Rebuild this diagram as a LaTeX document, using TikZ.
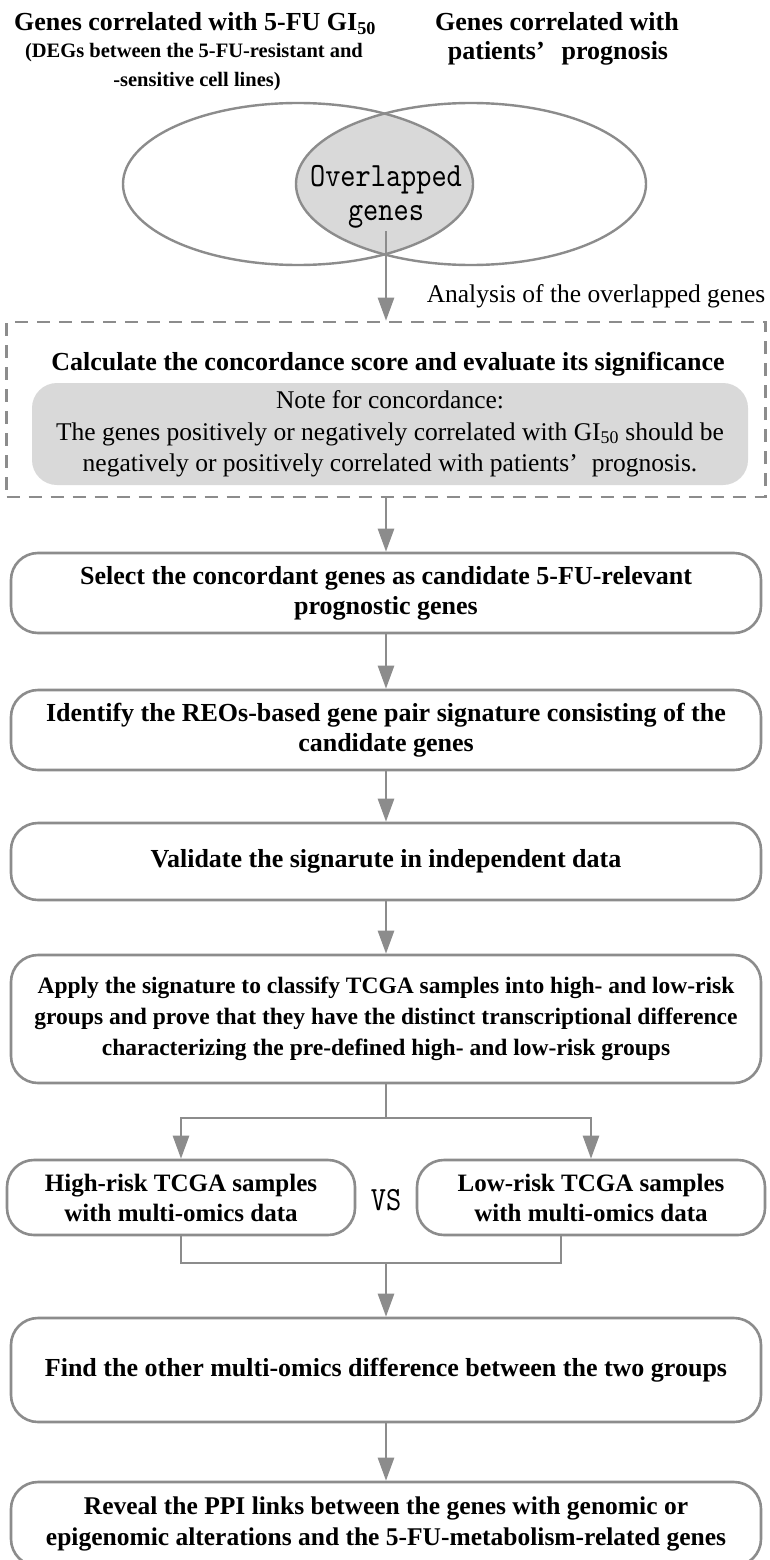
\documentclass[tikz,border=0pt]{standalone}
\usepackage{fontspec}
\setmainfont{Liberation Serif}
\newfontfamily\monof{lmmono10-regular.otf}[FakeStretch=0.85]
\usetikzlibrary{arrows.meta}
\definecolor{lgray}{HTML}{8C8C8C}
\definecolor{fgray}{HTML}{D9D9D9}
\begin{document}
\begin{tikzpicture}[x=1pt,y=-1pt,
  box/.style={draw=lgray, line width=2.6pt, rounded corners=27pt, fill=white, align=center, inner sep=0pt, font=\bfseries\fontsize{26}{30}\selectfont},
  arr/.style={draw=lgray, line width=2.6pt, -{Triangle[length=23pt,width=16pt]}},
  conn/.style={draw=lgray, line width=2.6pt},
  ttl/.style={anchor=base, inner sep=0pt, font=\bfseries\fontsize{26}{30}\selectfont},
  subttl/.style={anchor=base, inner sep=0pt, font=\bfseries\fontsize{20.5}{24}\selectfont},
  txt/.style={anchor=base, inner sep=0pt, font=\fontsize{25.5}{30}\selectfont},
  ell/.style={draw=lgray, line width=2.4pt},
  mono/.style={font=\monof\fontsize{34}{34}\selectfont, align=center, inner sep=3pt}]
\useasboundingbox (0,0) rectangle (769,1560);
\fill[white] (0,0) rectangle (769,1560);
% titles
\node[ttl] (tl1) at (195,31) {Genes correlated with 5-FU GI\textsubscript{50}};
\node[subttl] (tl2) at (194,58) {(DEGs between the 5-FU-resistant and};
\node[subttl] (tl3) at (197,87) {-sensitive cell lines)};
\node[ttl] (tr1) at (557,31) {Genes correlated with};
\node[ttl] (tr2) at (558,60) {patients’\hspace{17pt}prognosis};
% venn
\begin{scope}
\clip (298,184) ellipse [x radius=175, y radius=81];
\fill[fgray] (471,184) ellipse [x radius=175, y radius=81];
\end{scope}
\draw[ell] (298,184) ellipse [x radius=175, y radius=81];
\draw[ell] (471,184) ellipse [x radius=175, y radius=81];
\node[mono] (ov) at (386,196.5) {Overlapped\\genes};
\node[txt] (ana) at (596,302) {Analysis of the overlapped genes};
% dashed analysis box
\node[draw=lgray, line width=2.6pt, dash pattern=on 13pt off 9pt, minimum width=759pt, minimum height=175pt, inner sep=0pt] (dash) at (386,409.5) {};
\node[ttl] (calc) at (388,370) {Calculate the concordance score and evaluate its significance};
\node[fill=fgray, rounded corners=25pt, minimum width=716pt, minimum height=102pt, inner sep=0pt, align=center, font=\fontsize{25.5}{31.5}\selectfont] (note) at (390,434) {Note for concordance:\\The genes positively or negatively correlated with GI\textsubscript{50} should be\\negatively or positively correlated with patients’\hspace{14pt}prognosis.};
% main boxes
\node[box, minimum width=750pt, minimum height=80pt] (b1) at (386,593) {Select the concordant genes as candidate 5-FU-relevant\\prognostic genes};
\node[box, minimum width=750pt, minimum height=80pt] (b2) at (386,730) {Identify the REOs-based gene pair signature consisting of the\\candidate genes};
\node[box, minimum width=750pt, minimum height=77pt] (b3) at (386,861.5) {Validate the signarute in independent data};
\node[box, minimum width=750pt, minimum height=128pt, font=\bfseries\fontsize{23.5}{31}\selectfont] (b4) at (386,1019) {Apply the signature to classify TCGA samples into high- and low-risk\\groups and prove that they have the distinct transcriptional difference\\characterizing the pre-defined high- and low-risk groups};
\node[box, minimum width=348pt, minimum height=75pt, font=\bfseries\fontsize{25}{30}\selectfont] (high) at (181,1197.5) {High-risk TCGA samples\\with multi-omics data};
\node[box, minimum width=348pt, minimum height=75pt, font=\bfseries\fontsize{25}{30}\selectfont] (low) at (591,1197.5) {Low-risk TCGA samples\\with multi-omics data};
\node[mono] (vs) at (386,1200) {VS};
\node[box, minimum width=750pt, minimum height=104pt] (b5) at (386,1370) {Find the other multi-omics difference between the two groups};
\node[box, minimum width=750pt, minimum height=84pt, font=\bfseries\fontsize{25.5}{31}\selectfont] (b6) at (386,1524) {Reveal the PPI links between the genes with genomic or\\epigenomic alterations and the 5-FU-metabolism-related genes};
% connectors
\draw[arr] (ov.south) -- (ov.south |- dash.north);
\draw[arr] (dash.south) -- (b1.north);
\draw[arr] (b1.south) -- (b2.north);
\draw[arr] (b2.south) -- (b3.north);
\draw[arr] (b3.south) -- (b4.north);
\coordinate (split) at (386,1118);
\draw[conn] (b4.south) -- (split);
\draw[arr] (split) -| (high.north);
\draw[arr] (split) -| (low.north);
\coordinate (join) at (386,1263);
\draw[conn] (high.south) |- (join);
\draw[conn] ([xshift=-30pt]low.south) |- (join);
\draw[arr] (join) -- (b5.north);
\draw[arr] (b5.south) -- (b6.north);
\end{tikzpicture}
\end{document}
